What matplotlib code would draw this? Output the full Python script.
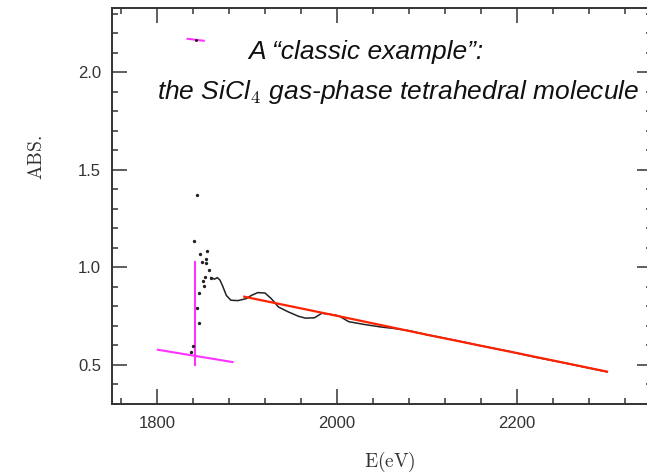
import matplotlib
matplotlib.use('Agg')
import matplotlib.pyplot as plt
from matplotlib.ticker import MultipleLocator

plt.rcParams['mathtext.fontset'] = 'cm'

# spectrum: scattered points around the edge
edge_e = [1838, 1840, 1841.6, 1844.5, 1845, 1846.5, 1846.5, 1848,
          1849.8, 1850.6, 1852.4, 1853, 1854, 1854.7, 1855.4, 1857.3, 1860]
edge_abs = [0.567, 0.596, 1.138, 1.37, 0.794, 0.715, 0.869, 1.071,
            1.028, 0.929, 0.904, 0.95, 1.042, 1.025, 1.085, 0.986, 0.948]

# spectrum above the edge
spec_e = [1860, 1864, 1867, 1870, 1873, 1877, 1882, 1890, 1899, 1905, 1912, 1920, 1927, 1935,
          1946, 1957, 1965, 1975, 1983, 1992, 2002, 2013, 2030, 2050, 2062, 2080, 2100, 2130,
          2160, 2190, 2220, 2250, 2280, 2300]
spec_abs = [0.948, 0.94, 0.948, 0.935, 0.904, 0.857, 0.832, 0.830, 0.840, 0.857, 0.871, 0.869,
            0.84, 0.797, 0.772, 0.75, 0.74, 0.742, 0.765, 0.76, 0.752, 0.722, 0.708, 0.694,
            0.688, 0.676, 0.655, 0.628, 0.598, 0.571, 0.540, 0.513, 0.484, 0.465]

# post-edge fit (red)
post_e = [1897, 2000, 2100, 2200, 2300]
post_abs = [0.85, 0.752, 0.655, 0.561, 0.466]

# pre-edge fit and edge marker (magenta)
pre_e = [1801, 1884]
pre_abs = [0.578, 0.515]
e0 = 1842
e0_abs = [0.50, 1.03]

# stray point near the top
stray_e = [1834, 1852]
stray_abs = [2.172, 2.162]
stray_pt = (1843, 2.166)

fig = plt.figure(figsize=(6.47, 4.74), dpi=100)
ax = fig.add_axes([112 / 647, 70 / 474, 540 / 647, 396 / 474])

ax.plot(pre_e, pre_abs, color='#ff33ff', lw=1.5)
ax.plot([e0, e0], e0_abs, color='#ff33ff', lw=1.5)
ax.plot(stray_e, stray_abs, color='#ff33ff', lw=1.5)
ax.plot(*stray_pt, 'o', color='#222222', ms=1.2)
ax.plot(edge_e, edge_abs, 'o', color='#222222', ms=1.4, ls='none')
ax.plot(spec_e, spec_abs, color='#222222', lw=1.1)
ax.plot(post_e, post_abs, color='#ff2200', lw=1.6)

ax.set_xlim(1750, 2350)
ax.set_ylim(0.3, 2.33)
ax.xaxis.set_major_locator(MultipleLocator(200))
ax.xaxis.set_minor_locator(MultipleLocator(40))
ax.yaxis.set_major_locator(MultipleLocator(0.5))
ax.yaxis.set_minor_locator(MultipleLocator(0.1))
ax.xaxis.set_major_formatter(lambda v, p: f'{v:.0f}')
ax.yaxis.set_major_formatter(lambda v, p: f'{v:.1f}')
ax.tick_params(which='both', direction='in', top=True, right=True, width=1.1,
               color='#333333', labelsize=12, labelcolor='#333333')
ax.tick_params(which='major', length=11)
ax.tick_params(which='minor', length=4.3)
ax.tick_params(axis='x', pad=9)
ax.tick_params(axis='y', pad=8)
for lab in ax.get_xticklabels() + ax.get_yticklabels():
    lab.set_fontfamily('Liberation Sans')
for s in ax.spines.values():
    s.set_linewidth(1.4)
    s.set_color('#333333')

fig.text(390 / 647, 1 - 462 / 474, r'$\mathrm{E(eV)}$', ha='center', va='center',
         fontsize=14, color='#333333')
fig.text(37 / 647, 1 - 158 / 474, r'$\mathrm{ABS.}$', ha='center', va='center',
         rotation=90, fontsize=14, color='#333333')

fig.text(366 / 647, 1 - 52 / 474, 'A \u201cclassic example\u201d:', ha='center', va='center',
         fontsize=19, style='italic', family='Liberation Sans', color='#111111')
fig.text(398 / 647, 1 - 92 / 474, r'the SiCl$_4$ gas-phase tetrahedral molecule', ha='center',
         va='center', fontsize=19, style='italic', family='Liberation Sans', color='#111111')

fig.savefig('out.png', dpi=100)
